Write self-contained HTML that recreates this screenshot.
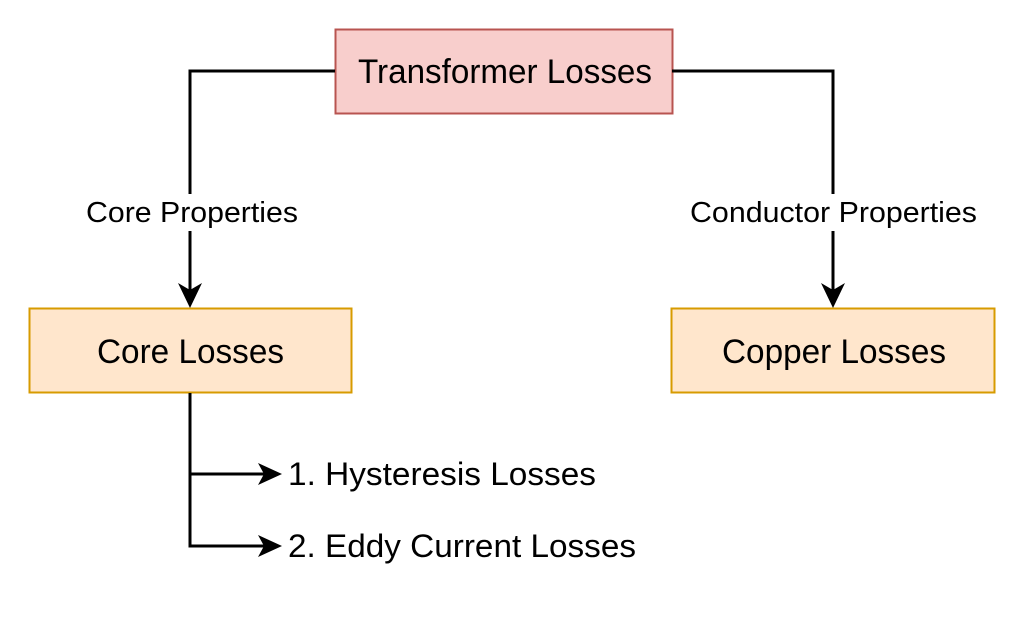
<!DOCTYPE html>
<html><head><style>
body{margin:0;width:1024px;height:618px;background:#fff;overflow:hidden}
svg text{font-family:"Liberation Sans",Arial,sans-serif;fill:#000}
</style></head><body>
<svg width="1024" height="618" viewBox="0 0 1024 618">
<rect x="335.5" y="29.5" width="337" height="84" fill="#f8cecc" stroke="#b85450" stroke-width="2"/>
<text x="358" y="83" font-size="34" textLength="294" lengthAdjust="spacingAndGlyphs">Transformer Losses</text>
<rect x="29.5" y="308.5" width="322" height="84" fill="#ffe6cc" stroke="#d79b00" stroke-width="2"/>
<text x="97" y="363" font-size="34" textLength="187" lengthAdjust="spacingAndGlyphs">Core Losses</text>
<rect x="671.5" y="308.5" width="323" height="84" fill="#ffe6cc" stroke="#d79b00" stroke-width="2"/>
<text x="722" y="363" font-size="34" textLength="224" lengthAdjust="spacingAndGlyphs">Copper Losses</text>
<g stroke="#000" stroke-width="3" fill="none">
<polyline points="335,71 190,71 190,290"/>
<polyline points="672,71 833,71 833,290"/>
<polyline points="190,393 190,546 268,546"/>
<polyline points="190,474 268,474"/>
</g>
<g fill="#000">
<polygon points="190,308 178,283 190,290 202,283"/>
<polygon points="833,308 821,283 833,290 845,283"/>
<polygon points="282,474 258,463 264,474 258,485"/>
<polygon points="282,546 258,535 264,546 258,557"/>
</g>
<rect x="84" y="194" width="216" height="37" fill="#fff"/>
<text x="86" y="222" font-size="29" textLength="212" lengthAdjust="spacingAndGlyphs">Core Properties</text>
<rect x="688" y="194" width="290" height="37" fill="#fff"/>
<text x="690" y="222" font-size="29" textLength="287" lengthAdjust="spacingAndGlyphs">Conductor Properties</text>
<text x="288" y="485" font-size="32" textLength="308" lengthAdjust="spacingAndGlyphs">1. Hysteresis Losses</text>
<text x="288" y="557" font-size="32" textLength="348" lengthAdjust="spacingAndGlyphs">2. Eddy Current Losses</text>
</svg>
</body></html>
